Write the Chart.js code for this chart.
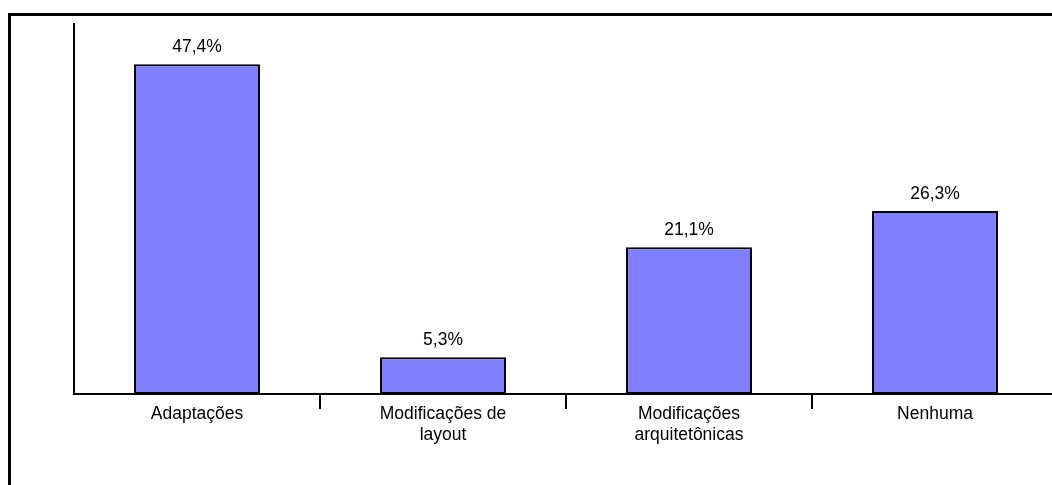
<!DOCTYPE html>
<html>
<head>
<meta charset="utf-8">
<script src="https://cdn.jsdelivr.net/npm/chart.js@4.4.0/dist/chart.umd.min.js"></script>
<style>
  html, body { margin: 0; padding: 0; background: #fff; overflow: hidden; }
  #wrap { width: 1070px; height: 485px; }
</style>
</head>
<body>
<div id="wrap"><canvas id="grafico" width="1070" height="485"></canvas></div>
<script>
// Dados do gráfico
const categorias = ['Adaptações', ['Modificações de', 'layout'], ['Modificações', 'arquitetônicas'], 'Nenhuma'];
const valores = [47.4, 5.3, 21.1, 26.3];
const yMax = 53.2;

const fonte = 'Liberation Sans, Arial, sans-serif';

// Moldura externa (só lados esquerdo e superior aparecem)
const moldura = {
    id: 'moldura',
    afterDraw(chart) {
        const c = chart.ctx;
        c.save();
        c.strokeStyle = '#000';
        c.lineWidth = 3;
        c.strokeRect(9.5, 14.5, 3000, 3000);
        c.restore();
    }
};

// Rótulos de valor acima das barras
const rotulos = {
    id: 'rotulos',
    afterDatasetsDraw(chart) {
        const c = chart.ctx;
        const meta = chart.getDatasetMeta(0);
        c.save();
        c.font = '17.5px ' + fonte;
        c.fillStyle = '#000';
        c.textAlign = 'center';
        c.textBaseline = 'alphabetic';
        meta.data.forEach((bar, i) => {
            const txt = valores[i].toFixed(1).replace('.', ',') + '%';
            c.fillText(txt, bar.x, bar.y - 12.5);
        });
        c.restore();
    }
};

new Chart(document.getElementById('grafico'), {
    type: 'bar',
    data: {
        labels: categorias,
        datasets: [{
            data: valores,
            backgroundColor: '#8080ff',
            borderColor: '#000',
            borderWidth: 2,
            borderSkipped: false,
            categoryPercentage: 1,
            barPercentage: 0.512
        }]
    },
    options: {
        responsive: false,
        animation: false,
        layout: { padding: { left: 74, top: 24, right: 12, bottom: 0 } },
        plugins: {
            legend: { display: false },
            tooltip: { enabled: false }
        },
        scales: {
            x: {
                afterFit: s => { s.height = 91; },
                grid: {
                    offset: true,
                    drawOnChartArea: false,
                    drawTicks: true,
                    tickLength: 15,
                    lineWidth: 2,
                    color: ctx => ctx.index === 0 ? 'rgba(0,0,0,0)' : '#000'
                },
                border: { display: true, color: '#000', width: 2 },
                ticks: {
                    color: '#000',
                    padding: -5,
                    maxRotation: 0,
                    autoSkip: false,
                    font: { family: fonte, size: 17.5, lineHeight: 1.2 }
                }
            },
            y: {
                min: 0,
                max: yMax,
                afterFit: s => { s.width = 0; },
                grid: { display: false },
                border: { display: true, color: '#000', width: 2 },
                ticks: { display: false }
            }
        }
    },
    plugins: [moldura, rotulos]
});
</script>
</body>
</html>
